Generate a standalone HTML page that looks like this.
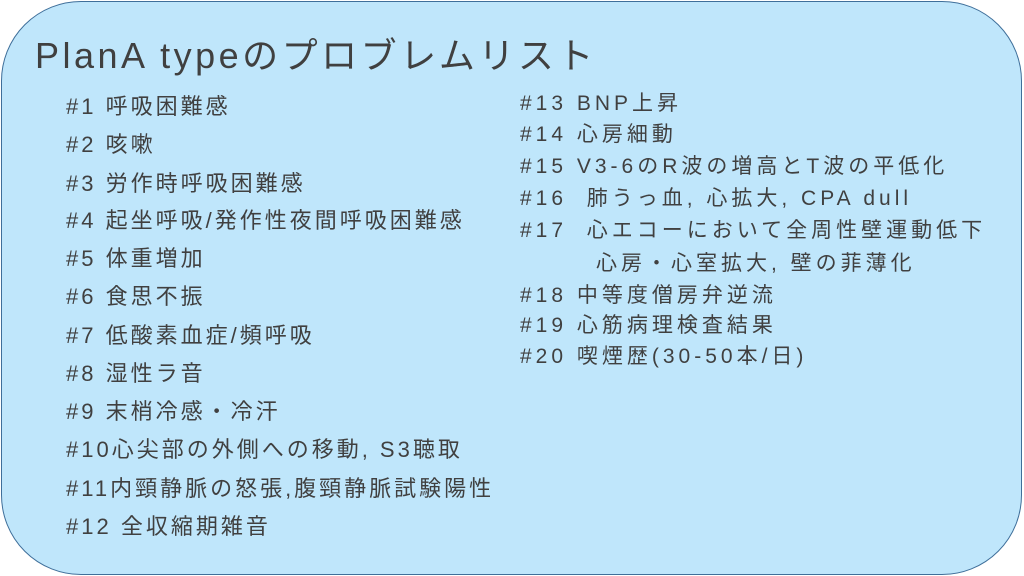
<!DOCTYPE html>
<html><head><meta charset="utf-8"><style>
html,body{margin:0;padding:0;background:#fff;width:1024px;height:576px;overflow:hidden}
body{position:relative;font-family:"Liberation Sans","Noto Sans CJK JP",sans-serif;color:#404040}
.box{position:absolute;left:1px;top:1px;width:1019px;height:572px;border:1.5px solid #3f6f9a;border-radius:80px;background:#bfe6fb}
.t{position:absolute;left:35px;top:27px;font-size:36px;letter-spacing:3.5px;white-space:nowrap}
.l{position:absolute;left:66px;font-size:22px;letter-spacing:3px;white-space:nowrap;line-height:26px}
.r{position:absolute;left:520px;font-size:21px;letter-spacing:4px;white-space:nowrap;line-height:26px}
</style></head><body>
<div class="box"></div>
<div class="t">PlanA typeのプロブレムリスト</div>
<div class="l" style="top:94px">#1 呼吸困難感</div>
<div class="l" style="top:132px">#2 咳嗽</div>
<div class="l" style="top:171px">#3 労作時呼吸困難感</div>
<div class="l" style="top:208px">#4 起坐呼吸/発作性夜間呼吸困難感</div>
<div class="l" style="top:246px">#5 体重増加</div>
<div class="l" style="top:284px">#6 食思不振</div>
<div class="l" style="top:323px">#7 低酸素血症/頻呼吸</div>
<div class="l" style="top:361px">#8 湿性ラ音</div>
<div class="l" style="top:399px">#9 末梢冷感・冷汗</div>
<div class="l" style="top:437px">#10心尖部の外側への移動, S3聴取</div>
<div class="l" style="top:476px">#11内頸静脈の怒張,腹頸静脈試験陽性</div>
<div class="l" style="top:514px">#12 全収縮期雑音</div>
<div class="r" style="top:91px">#13 BNP上昇</div>
<div class="r" style="top:122px">#14 心房細動</div>
<div class="r" style="top:154px">#15 V3-6のR波の増高とT波の平低化</div>
<div class="r" style="top:186px">#16&nbsp; 肺うっ血, 心拡大, CPA dull</div>
<div class="r" style="top:218px">#17&nbsp; 心エコーにおいて全周性壁運動低下</div>
<div class="r" style="top:251px;left:596px">心房・心室拡大, 壁の菲薄化</div>
<div class="r" style="top:283px">#18 中等度僧房弁逆流</div>
<div class="r" style="top:313px">#19 心筋病理検査結果</div>
<div class="r" style="top:344px">#20 喫煙歴(30-50本/日)</div>
</body></html>
